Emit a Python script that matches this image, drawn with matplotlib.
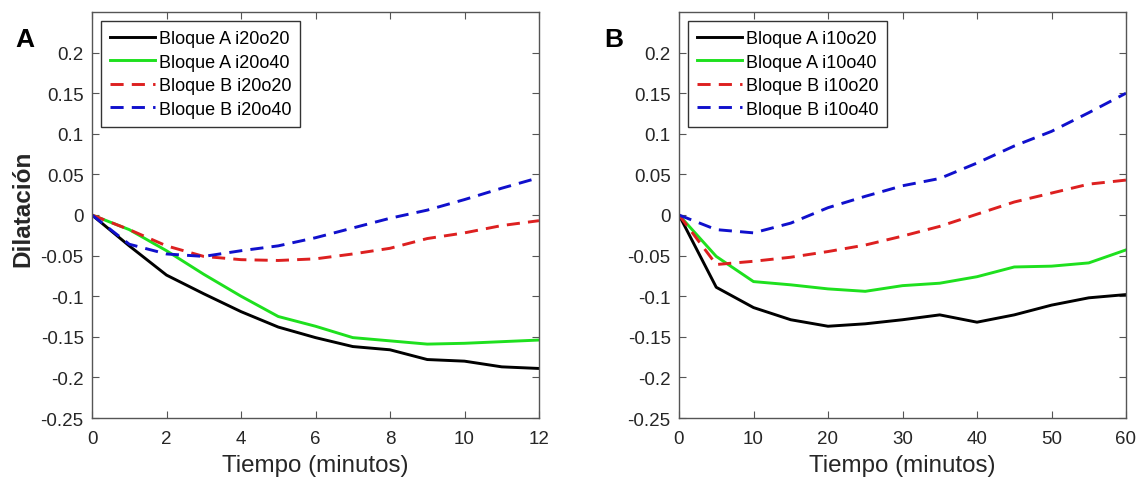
import matplotlib
matplotlib.use("Agg")
import matplotlib.pyplot as plt
from matplotlib.ticker import FuncFormatter

# Panel A (12 min)
t_a = [0, 1, 2, 3, 4, 5, 6, 7, 8, 9, 10, 11, 12]
a_i20o20 = [0, -0.038, -0.074, -0.097, -0.119, -0.138, -0.151, -0.162, -0.166, -0.178, -0.180, -0.187, -0.189]
a_i20o40 = [0, -0.018, -0.044, -0.073, -0.100, -0.125, -0.137, -0.151, -0.155, -0.159, -0.158, -0.156, -0.154]
b_i20o20 = [0, -0.018, -0.038, -0.051, -0.055, -0.056, -0.054, -0.048, -0.041, -0.029, -0.022, -0.013, -0.007]
b_i20o40 = [0, -0.036, -0.048, -0.051, -0.044, -0.038, -0.028, -0.016, -0.004, 0.006, 0.019, 0.033, 0.046]

# Panel B (60 min)
t_b = [0, 5, 10, 15, 20, 25, 30, 35, 40, 45, 50, 55, 60]
a_i10o20 = [0, -0.089, -0.114, -0.129, -0.137, -0.134, -0.129, -0.123, -0.132, -0.123, -0.111, -0.102, -0.098]
a_i10o40 = [0, -0.051, -0.082, -0.086, -0.091, -0.094, -0.087, -0.084, -0.076, -0.064, -0.063, -0.059, -0.043]
b_i10o20 = [0, -0.061, -0.057, -0.052, -0.045, -0.037, -0.026, -0.014, 0.001, 0.016, 0.027, 0.038, 0.043]
b_i10o40 = [0, -0.018, -0.022, -0.010, 0.009, 0.023, 0.036, 0.045, 0.064, 0.085, 0.103, 0.126, 0.150]

plt.rcParams["font.family"] = ["Liberation Sans", "DejaVu Sans"]
plt.rcParams["axes.unicode_minus"] = False

GREEN = "#1ee01e"
RED = "#dd2020"
BLUE = "#1010cc"
GRAY = "#555555"


def fmt(v, pos):
    return "%g" % round(v, 2)


def panel(ax, t, series, labels, xticks):
    styles = [("k", "-"), (GREEN, "-"), (RED, "--"), (BLUE, "--")]
    for y, lab, (c, ls) in zip(series, labels, styles):
        ax.plot(t, y, color=c, linestyle=ls, linewidth=2.1, label=lab,
                dashes=(4.5, 2.8) if ls == "--" else (None, None))
    ax.set_xlim(t[0], t[-1])
    ax.set_ylim(-0.25, 0.25)
    ax.set_xticks(xticks)
    ax.set_yticks([-0.25, -0.2, -0.15, -0.1, -0.05, 0, 0.05, 0.1, 0.15, 0.2])
    ax.yaxis.set_major_formatter(FuncFormatter(fmt))
    ax.tick_params(direction="in", top=True, right=True, length=5,
                   labelsize=13.5, colors=GRAY, labelcolor="#262626")
    ax.tick_params(axis="y", pad=6)
    ax.tick_params(axis="x", pad=9)
    for s in ax.spines.values():
        s.set_color(GRAY)
        s.set_linewidth(1.0)
    ax.set_xlabel("Tiempo (minutos)", fontsize=17.4, color="#262626", labelpad=5)
    leg = ax.legend(loc="upper left", fontsize=13, handlelength=2.5,
                    handletextpad=0.2, labelspacing=0.36, borderpad=0.5,
                    fancybox=False, framealpha=1, borderaxespad=0.5)
    leg.get_frame().set_edgecolor("#333333")
    leg.get_frame().set_linewidth(1.0)


fig = plt.figure(figsize=(11.38, 4.81), dpi=100)
ax1 = fig.add_axes([92 / 1138, 1 - 419 / 481, 447 / 1138, 406 / 481])
ax2 = fig.add_axes([679 / 1138, 1 - 419 / 481, 447 / 1138, 406 / 481])

panel(ax1, t_a, [a_i20o20, a_i20o40, b_i20o20, b_i20o40],
      ["Bloque A i20o20", "Bloque A i20o40", "Bloque B i20o20", "Bloque B i20o40"],
      [0, 2, 4, 6, 8, 10, 12])
panel(ax2, t_b, [a_i10o20, a_i10o40, b_i10o20, b_i10o40],
      ["Bloque A i10o20", "Bloque A i10o40", "Bloque B i10o20", "Bloque B i10o40"],
      [0, 10, 20, 30, 40, 50, 60])

ax1.set_ylabel("Dilatación", fontsize=17.5, fontweight="bold", color="#262626")
ax1.yaxis.set_label_coords(-0.13, 0.517)

fig.text(25 / 1138, 1 - 40 / 481, "A", fontsize=19, fontweight="bold", ha="center", va="center")
fig.text(614 / 1138, 1 - 40 / 481, "B", fontsize=19, fontweight="bold", ha="center", va="center")

fig.savefig("out.png", dpi=100)
